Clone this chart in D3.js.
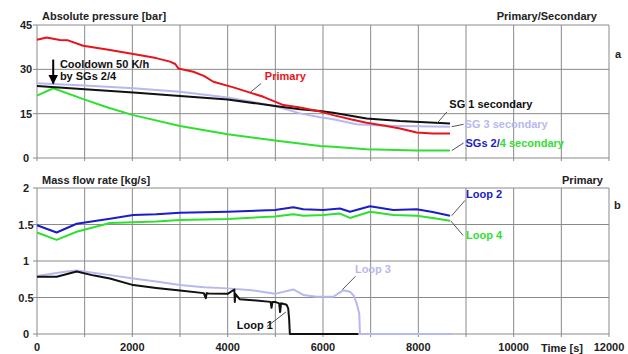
<!DOCTYPE html>
<html>
  <head>
    <meta charset="utf-8">
    <title>Pressure and mass flow</title>
    <script src="https://cdn.jsdelivr.net/npm/d3@7"></script>
    <style media="screen">
      body { margin: 0; background: #fff; }
      svg { display: block; font-family: "Liberation Sans", Arial, sans-serif; font-weight: bold; }
      .grid line { stroke: #8a8a8a; stroke-width: 1; }
      .tick-label { font-size: 11px; fill: #222; }
      .title { font-size: 11px; fill: #222; }
      .series { fill: none; stroke-width: 2; stroke-linejoin: round; }
      .lead { stroke: #555; stroke-width: 1; }
    </style>
  </head>
  <body>
    <script type="text/javascript">

    // time ticks
    const timeTicks = [0, 2000, 4000, 6000, 8000, 10000, 12000];
    const pressTicks = [0, 15, 30, 45];
    const flowTicks = [0, 0.5, 1, 1.5, 2];
    const flowTickLabels = ["0", "0.5", "1", "1.5", "2"];

    // panel a: absolute pressure [bar]
    const primaryT = [0, 200, 480, 650, 970, 1500, 2020, 2500, 2790, 2900, 2965, 3280, 3500, 3700, 4120, 4750, 5170, 5517, 5940, 6215, 6600, 6915, 7300, 7615, 7965, 8300, 8665];
    const primaryV = [40, 40.8, 39.9, 39.8, 38, 36.6, 35.2, 33.8, 32.6, 31.8, 30.3, 29.2, 27.8, 25.8, 23.9, 20.7, 17.9, 17.1, 15.7, 14.5, 13.0, 11.9, 10.9, 10.0, 8.6, 8.3, 8.3];
    const sg1T = [0, 1000, 2020, 3000, 4000, 4993, 5517, 5937, 6215, 6915, 7615, 8665];
    const sg1V = [24.4, 23.3, 22.2, 21.0, 19.8, 17.6, 16.5, 15.9, 15.3, 13.4, 12.5, 11.7];
    const sg3T = [0, 1000, 2020, 3000, 4000, 4993, 5517, 5937, 6215, 6700, 7200, 7615, 8665];
    const sg3V = [25.3, 24.5, 23.6, 22.4, 20.5, 17.6, 15.1, 13.8, 13.1, 11.4, 11.0, 10.8, 10.6];
    const sg24T = [0, 342, 972, 1500, 2020, 3000, 4000, 4993, 5937, 6215, 6915, 7965, 8665];
    const sg24V = [21.1, 23.6, 19.9, 17.0, 14.5, 10.8, 8.0, 5.9, 4.1, 3.8, 3.0, 2.5, 2.5];

    // panel b: mass flow rate [kg/s]
    const loop2T = [0, 412, 832, 1530, 2020, 2500, 3000, 4000, 4993, 5377, 5587, 6006, 6356, 6566, 6985, 7475, 7965, 8300, 8665];
    const loop2V = [1.49, 1.39, 1.51, 1.58, 1.63, 1.64, 1.66, 1.675, 1.70, 1.735, 1.71, 1.70, 1.72, 1.675, 1.75, 1.70, 1.71, 1.67, 1.62];
    const loop4T = [0, 412, 832, 1530, 2020, 2500, 3000, 4000, 4993, 5377, 5587, 6006, 6356, 6566, 6985, 7475, 7965, 8300, 8665];
    const loop4V = [1.39, 1.29, 1.40, 1.52, 1.53, 1.54, 1.56, 1.575, 1.61, 1.64, 1.62, 1.63, 1.65, 1.59, 1.675, 1.63, 1.62, 1.59, 1.55];
    const loop3T = [0, 622, 832, 1500, 2020, 2500, 3000, 3500, 4000, 4500, 4993, 5377, 5587, 5866, 6215, 6426, 6566, 6650, 6705, 6761, 6775, 8700];
    const loop3V = [0.795, 0.855, 0.87, 0.81, 0.76, 0.72, 0.67, 0.64, 0.625, 0.60, 0.55, 0.61, 0.535, 0.51, 0.51, 0.60, 0.58, 0.52, 0.42, 0.28, 0, 0];
    const loop1T = [0, 412, 832, 1200, 1530, 2020, 2500, 3000, 3500, 3540, 3560, 3600, 4000, 4140, 4150, 4160, 4255, 4600, 4900, 4920, 4940, 4993, 5080, 5100, 5120, 5237, 5270, 5290, 5305, 6740];
    const loop1V = [0.785, 0.785, 0.855, 0.80, 0.76, 0.67, 0.63, 0.595, 0.56, 0.49, 0.56, 0.555, 0.55, 0.61, 0.44, 0.55, 0.475, 0.46, 0.44, 0.36, 0.44, 0.44, 0.42, 0.30, 0.42, 0.40, 0.35, 0.2, 0, 0];

    const width = 628, height = 354;

    const svg = d3.select('body').append('svg')
      .attr('width', width)
      .attr('height', height);

    const x = d3.scaleLinear().domain([0, 12000]).range([37, 609]);
    const yP = d3.scaleLinear().domain([0, 45]).range([158, 25]);
    const yF = d3.scaleLinear().domain([0, 2]).range([334, 188]);

    const gridX = d3.range(0, 12001, 1000);

    function panel(y, ticks, labels) {
      let g = svg.append('g').attr('class', 'grid');
      g.selectAll('.vx').data(gridX).enter().append('line')
        .attr('x1', d => x(d)).attr('x2', d => x(d))
        .attr('y1', y.range()[1]).attr('y2', y.range()[0] + 3);
      g.selectAll('.hy').data(ticks).enter().append('line')
        .attr('x1', x(0) - 4).attr('x2', x(12000))
        .attr('y1', d => y(d)).attr('y2', d => y(d));
      svg.append('g').selectAll('text').data(ticks).enter().append('text')
        .attr('class', 'tick-label')
        .attr('x', 26)
        .attr('y', d => y(d) + 4)
        .attr('text-anchor', 'middle')
        .text((d, i) => labels[i]);
    }

    panel(yP, pressTicks, pressTicks.map(String));
    panel(yF, flowTicks, flowTickLabels);

    svg.append('g').selectAll('text').data(timeTicks).enter().append('text')
      .attr('class', 'tick-label')
      .attr('x', d => x(d))
      .attr('y', 351)
      .attr('text-anchor', 'middle')
      .text(d => d);

    // sits just under the tick row, squeezed at the bottom edge
    svg.append('text').attr('class', 'title').attr('x', 541).attr('y', 352).text('Time [s]');

    // titles
    svg.append('text').attr('class', 'title').attr('x', 42).attr('y', 20).text('Absolute pressure [bar]');
    svg.append('text').attr('class', 'title').attr('x', 597).attr('y', 20).attr('text-anchor', 'end').text('Primary/Secondary');
    svg.append('text').attr('class', 'title').attr('x', 615).attr('y', 58).text('a');
    svg.append('text').attr('class', 'title').attr('x', 42).attr('y', 184).text('Mass flow rate [kg/s]');
    svg.append('text').attr('class', 'title').attr('x', 603).attr('y', 184).attr('text-anchor', 'end').text('Primary');
    svg.append('text').attr('class', 'title').attr('x', 614).attr('y', 209).text('b');

    function drawSeries(ts, vs, y, color) {
      let pts = ts.map((t, i) => [t, vs[i]]);
      let line = d3.line().x(d => x(d[0])).y(d => y(d[1]));
      svg.append('path').datum(pts)
        .attr('class', 'series')
        .attr('stroke', color)
        .attr('d', line);
    }

    const cRed = '#e8141c', cBlack = '#111', cLav = '#b8b8f0', cGreen = '#2fe02f', cBlue = '#1c1cc8';

    drawSeries(sg24T, sg24V, yP, cGreen);
    drawSeries(sg3T, sg3V, yP, cLav);
    drawSeries(sg1T, sg1V, yP, cBlack);
    drawSeries(primaryT, primaryV, yP, cRed);

    drawSeries(loop3T, loop3V, yF, cLav);
    drawSeries(loop1T, loop1V, yF, cBlack);
    drawSeries(loop4T, loop4V, yF, cGreen);
    drawSeries(loop2T, loop2V, yF, cBlue);

    // leaders and labels
    function lead(t1, v1, t2, v2, y) {
      svg.append('line').attr('class', 'lead')
        .attr('x1', x(t1)).attr('y1', y(v1))
        .attr('x2', x(t2)).attr('y2', y(v2));
    }
    function label(t, v, y, txt, color) {
      return svg.append('text').attr('class', 'title')
        .attr('x', x(t)).attr('y', y(v))
        .style('fill', color).text(txt);
    }

    // cooldown arrow
    svg.append('defs').append('marker')
      .attr('id', 'ah').attr('viewBox', '0 0 10 10')
      .attr('refX', 9).attr('refY', 5)
      .attr('markerWidth', 5).attr('markerHeight', 5)
      .attr('orient', 'auto')
      .append('path').attr('d', 'M0,0L10,5L0,10z').attr('fill', '#000');
    svg.append('line')
      .attr('x1', x(340)).attr('x2', x(340))
      .attr('y1', yP(33.3)).attr('y2', yP(25.2))
      .attr('stroke', '#000').attr('stroke-width', 2)
      .attr('marker-end', 'url(#ah)');
    label(480, 30.6, yP, 'Cooldown 50 K/h', '#111');
    label(480, 26.4, yP, 'by SGs 2/4', '#111');

    lead(4480, 22.3, 4700, 25.2, yP);
    label(4780, 26.3, yP, 'Primary', cRed);

    lead(8400, 11.9, 8600, 15.6, yP);
    label(8650, 17.0, yP, 'SG 1 secondary', '#111');

    lead(8700, 10.6, 8950, 11.4, yP);
    label(8970, 10.2, yP, 'SG 3 secondary', cLav);

    lead(8700, 2.5, 8950, 5.1, yP);
    let t24 = label(8990, 3.6, yP, null, cBlue);
    t24.append('tspan').style('fill', cBlue).text('SGs 2/');
    t24.append('tspan').style('fill', cGreen).text('4 secondary');

    lead(8700, 1.62, 8980, 1.83, yF);
    label(9000, 1.86, yF, 'Loop 2', cBlue);
    lead(8680, 1.55, 8940, 1.35, yF);
    label(9000, 1.30, yF, 'Loop 4', cGreen);
    lead(6410, 0.61, 6680, 0.79, yF);
    label(6670, 0.84, yF, 'Loop 3', cLav);
    lead(4820, 0.10, 5220, 0.30, yF);
    label(4190, 0.075, yF, 'Loop 1', '#111');

    </script>
  </body>
</html>
